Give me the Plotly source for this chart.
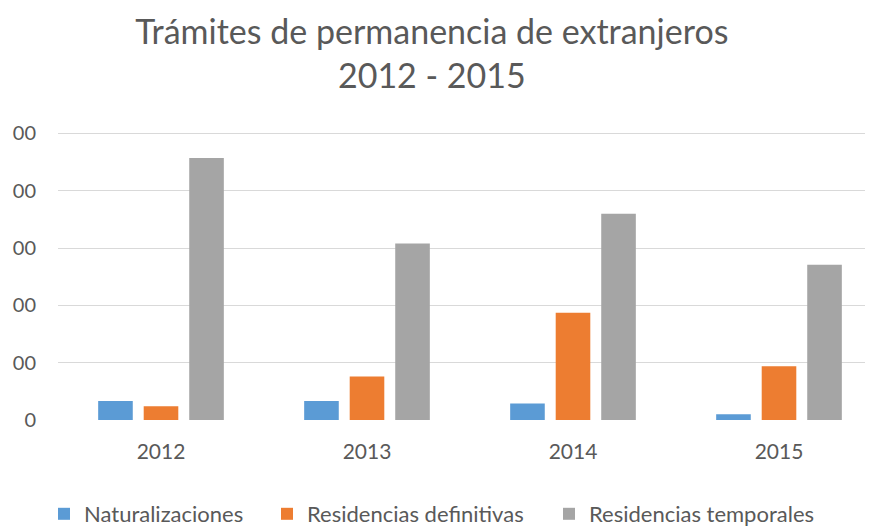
import plotly.graph_objects as go

years = ["2012", "2013", "2014", "2015"]
naturalizaciones = [0.33, 0.33, 0.29, 0.10]
res_definitivas = [0.24, 0.76, 1.87, 0.94]
res_temporales = [4.57, 3.08, 3.60, 2.71]

y_tickvals = [0, 1, 2, 3, 4, 5]
y_ticktext = ["0", "00", "00", "00", "00", "00"]

FONT = "Lato"
TXT = "#595959"
# the page body adds an 8px margin, so the figure is drawn 8px smaller
W, H = 865, 521

fig = go.Figure()
fig.add_bar(x=years, y=naturalizaciones, name="Naturalizaciones",
            marker_color="#5B9BD5", legend="legend")
fig.add_bar(x=years, y=res_definitivas, name="Residencias definitivas",
            marker_color="#ED7D31", legend="legend2")
fig.add_bar(x=years, y=res_temporales, name="Residencias temporales",
            marker_color="#A5A5A5", legend="legend3")

fig.update_traces(marker_line_width=0)

def leg(xpx):
    return dict(
        orientation="h", xref="container", yref="container",
        x=xpx / W, xanchor="left", y=1 - 485 / H, yanchor="top",
        font=dict(family=FONT, size=22, color=TXT),
        bgcolor="rgba(0,0,0,0)", itemwidth=30,
    )

fig.update_layout(
    width=W, height=H,
    margin=dict(l=50, r=0, t=114, b=109, pad=0, autoexpand=False),
    paper_bgcolor="white", plot_bgcolor="white",
    font=dict(family=FONT, color=TXT),
    title=dict(
        text="Trámites de permanencia de extranjeros<br>2012 - 2015",
        x=0.490, xanchor="center", y=1 - 36 / H, yanchor="top",
        font=dict(family=FONT, size=34, color=TXT),
    ),
    barmode="group", bargap=0.337, bargroupgap=0.24,
    showlegend=True,
    legend=leg(36), legend2=leg(259), legend3=leg(541),
    xaxis=dict(
        range=[-0.5, -0.5 + 815 / 206], showgrid=False, zeroline=False, showline=False,
        tickfont=dict(family=FONT, size=21, color=TXT), ticks="", ticklabelstandoff=17,
        automargin=False,
    ),
    yaxis=dict(
        range=[0, 5.2], tickvals=y_tickvals, ticktext=y_ticktext,
        showgrid=True, gridcolor="#D9D9D9", gridwidth=1.3,
        zeroline=False, showline=False, ticks="",
        tickfont=dict(family=FONT, size=20, color=TXT), ticklabelstandoff=21,
        automargin=False,
    ),
)

fig.write_html("out.html")
